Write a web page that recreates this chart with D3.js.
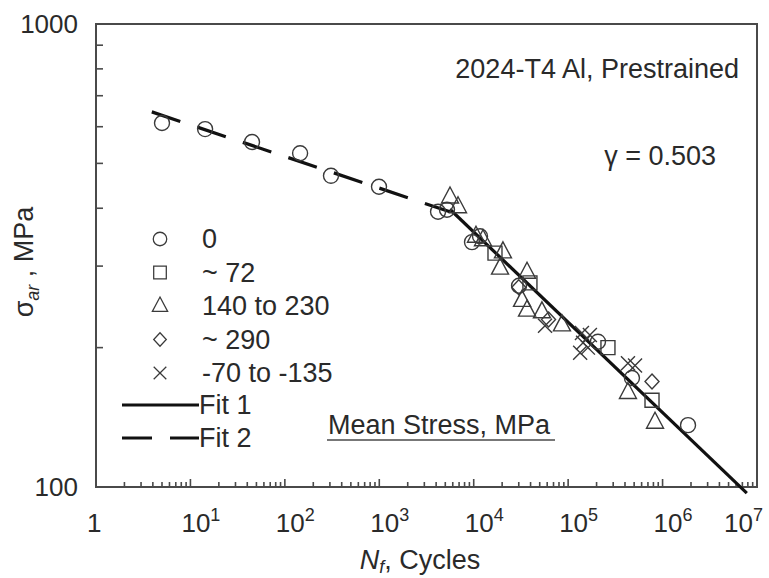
<!DOCTYPE html>
<html><head><meta charset="utf-8">
<script src="https://cdn.jsdelivr.net/npm/d3@7"></script>
<style>
body{margin:0;background:#fff}
svg text{font-family:"Liberation Sans", Arial, Helvetica, sans-serif; fill:#2a2a2a}
</style></head><body>
<svg id="chart" width="769" height="578"></svg>
<script>
// Fatigue data, [cycles to failure Nf, stress amplitude sigma_ar in MPa], grouped by mean stress
const meanStress0 = [
  [5.0, 611], [14.3, 593], [44.9, 556], [145, 526], [308, 470], [993, 445],
  [4190, 393], [5210, 397], [9590, 338], [11660, 348], [30200, 272],
  [207000, 206], [474000, 172], [1.86e6, 136]
];
const meanStress72 = [[16800, 320], [39400, 276], [264000, 200], [773000, 154]];
const meanStress140to230 = [
  [5610, 423], [6820, 403], [10570, 348], [12540, 342], [20400, 322], [19000, 297],
  [36700, 291], [32500, 253], [36700, 241], [52800, 239], [86000, 224],
  [430000, 160], [832000, 138]
];
const meanStress290 = [[30000, 270], [62000, 230], [773000, 169]];
const meanStressNeg = [
  [56900, 223], [140000, 215], [170000, 213], [144000, 205], [134000, 195],
  [162000, 200], [430000, 185], [511000, 183]
];
// Fitted curves, end points [Nf, sigma_ar]
const fit1 = [[5600, 398], [7.8e6, 97]];
const fit2 = [[3.9, 646], [5600, 393]];

const legendLabels = ["0", "~ 72", "140 to 230", "~ 290", "-70 to -135"];
const xTickExponents = [0, 1, 2, 3, 4, 5, 6, 7];
const yTickLabels = [100, 1000];

const svg = d3.select("#chart");
const margin = {left: 96, right: 12, top: 24, bottom: 91};
const W = 769, H = 578;
const FS = 27;

const x = d3.scaleLog().domain([1, 1e7]).range([margin.left, W - margin.right]);
const y = d3.scaleLog().domain([100, 1000]).range([H - margin.bottom, margin.top]);

const axisColor = "#4a4a4a";
const markColor = "#3a3a3a";

// Plot frame
svg.append("rect")
  .attr("x", x(1)).attr("y", y(1000))
  .attr("width", x(1e7) - x(1)).attr("height", y(100) - y(1000))
  .attr("fill", "none").attr("stroke", axisColor).attr("stroke-width", 2);

// Minor and major ticks on the bottom axis (pointing inward)
const xTickVals = [];
for (let e = 0; e < 7; e++) for (let m = 1; m <= 9; m++) xTickVals.push(m * Math.pow(10, e));
svg.append("g").selectAll("line").data(xTickVals.filter(v => v > 1)).join("line")
  .attr("x1", d => x(d)).attr("x2", d => x(d))
  .attr("y1", y(100)).attr("y2", d => y(100) - (Math.abs(Math.log10(d) % 1) < 1e-9 ? 8 : 5))
  .attr("stroke", axisColor).attr("stroke-width", 1.6);

// Minor ticks on the left axis
const yTickVals = d3.range(200, 1000, 100);
svg.append("g").selectAll("line").data(yTickVals).join("line")
  .attr("x1", x(1)).attr("x2", x(1) + 7)
  .attr("y1", d => y(d)).attr("y2", d => y(d))
  .attr("stroke", axisColor).attr("stroke-width", 1.6);

// Bottom tick labels
const xLab = svg.append("g").selectAll("text").data(xTickExponents).join("text")
  .attr("y", y(100) + 45)
  .attr("font-size", 26);
xLab.each(function(e) {
  const t = d3.select(this);
  if (e === 0) { t.text("1"); }
  else {
    t.append("tspan").text("10");
    t.append("tspan").attr("dy", -11).attr("font-size", 18).text(e);
  }
});
xLab.attr("x", function(e) {
  const w = this.getComputedTextLength();
  const px = x(Math.pow(10, e)) - 9;
  return Math.min(px, W - w - 6);
});

// Left tick labels
svg.append("g").selectAll("text").data(yTickLabels).join("text")
  .attr("x", x(1) - 18).attr("y", d => y(d) + 9)
  .attr("text-anchor", "end").attr("font-size", 26)
  .text(d => d);

// Axis titles
const xTitle = svg.append("text").attr("x", 420).attr("y", 569)
  .attr("text-anchor", "middle").attr("font-size", FS);
xTitle.append("tspan").attr("font-style", "italic").text("N");
xTitle.append("tspan").attr("font-style", "italic").attr("font-size", 18).attr("dy", 4).text("f");
xTitle.append("tspan").attr("dy", -4).text(", Cycles");

const yTitle = svg.append("text").attr("transform", "translate(33,262) rotate(-90)")
  .attr("text-anchor", "middle").attr("font-size", FS);
yTitle.append("tspan").text("σ");
yTitle.append("tspan").attr("font-style", "italic").attr("font-size", 18).attr("dy", 6).text("ar");
yTitle.append("tspan").attr("dy", -6).text(" , MPa");

// Symbol paths
function shapePath(kind) {
  switch (kind) {
    case "circle": return "M7.5,0A7.5,7.5 0 1,1 -7.5,0A7.5,7.5 0 1,1 7.5,0Z";
    case "square": return "M-7,-7H7V7H-7Z";
    case "triangle": return "M0,-10L8.5,6L-8.5,6Z";
    case "diamond": return "M0,-7.5L7,0L0,7.5L-7,0Z";
    case "x": return "M-7,-7L7,7M7,-7L-7,7";
  }
}
const groups = [
  {kind: "circle", data: meanStress0},
  {kind: "square", data: meanStress72},
  {kind: "triangle", data: meanStress140to230},
  {kind: "diamond", data: meanStress290},
  {kind: "x", data: meanStressNeg}
];

// Fit lines
const line = d3.line().x(d => x(d[0])).y(d => y(d[1]));
svg.append("path").datum(fit2).attr("d", line)
  .attr("fill", "none").attr("stroke", "#111").attr("stroke-width", 3.2)
  .attr("stroke-dasharray", "30,18");
svg.append("path").datum(fit1).attr("d", line)
  .attr("fill", "none").attr("stroke", "#111").attr("stroke-width", 3.2);

// Data markers
groups.forEach(g => {
  svg.append("g").selectAll("path").data(g.data).join("path")
    .attr("d", shapePath(g.kind))
    .attr("transform", d => `translate(${x(d[0])},${y(d[1])})`)
    .attr("fill", "none").attr("stroke", markColor).attr("stroke-width", 1.4);
});

// Legend
const lg = svg.append("g");
groups.forEach((g, i) => {
  const cy = 239 + i * 33.5;
  lg.append("path").attr("d", shapePath(g.kind))
    .attr("transform", `translate(160,${cy}) scale(0.9)`)
    .attr("fill", "none").attr("stroke", markColor).attr("stroke-width", 1.4);
  lg.append("text").attr("x", 202).attr("y", cy + 9).attr("font-size", FS).text(legendLabels[i]);
});
lg.append("line").attr("x1", 122).attr("x2", 199).attr("y1", 405).attr("y2", 405)
  .attr("stroke", "#111").attr("stroke-width", 3.2);
lg.append("text").attr("x", 199).attr("y", 414).attr("font-size", FS).text("Fit 1");
lg.append("line").attr("x1", 122).attr("x2", 199).attr("y1", 438).attr("y2", 438)
  .attr("stroke", "#111").attr("stroke-width", 3.2).attr("stroke-dasharray", "30,18");
lg.append("text").attr("x", 199).attr("y", 447).attr("font-size", FS).text("Fit 2");

// Annotations
svg.append("text").attr("x", 739).attr("y", 78).attr("text-anchor", "end")
  .attr("font-size", FS).text("2024-T4 Al, Prestrained");
svg.append("text").attr("x", 716).attr("y", 165).attr("text-anchor", "end")
  .attr("font-size", FS).text("γ = 0.503");
svg.append("text").attr("x", 328).attr("y", 434).attr("font-size", FS).text("Mean Stress, MPa");
svg.append("line").attr("x1", 327).attr("x2", 555).attr("y1", 440).attr("y2", 440)
  .attr("stroke", axisColor).attr("stroke-width", 1.6);
</script></body></html>
